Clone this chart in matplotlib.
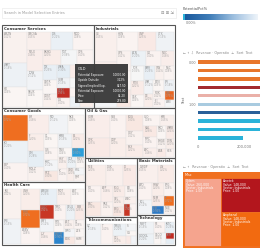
import numpy as np
import matplotlib
matplotlib.use("Agg")
import matplotlib.pyplot as plt
from matplotlib.patches import Rectangle
from matplotlib.colors import LinearSegmentedColormap

# Sector data (market value, $B) in layout order
sectors = ["Consumer Services", "Industrials", "Consumer Goods", "Health Care",
           "Oil & Gas", "Utilities", "Telecommunications", "Basic Materials", "Technology"]
sector_values = [747, 664, 607, 517, 440, 301, 143, 211, 111]

tickers = {
    "Consumer Services": ["AMZN", "WMT", "HD", "CMCSA", "DIS", "MCD", "NFLX", "LOW", "SBUX", "BKNG",
                          "TGT", "CVS", "TJX", "CHTR", "COST", "WBA", "MAR", "ROST", "YUM", "EBAY",
                          "DG", "ORLY", "AZO", "KR", "SYY", "HLT", "DLTR", "OMC"],
    "Industrials": ["GE", "BA", "MMM", "HON", "UNP", "UTX", "UPS", "CAT", "LMT", "ACN", "GD", "NOC",
                    "FDX", "RTN", "CSX", "EMR", "ITW", "NSC", "WM", "DE", "ETN", "PH", "ROK", "JCI",
                    "CMI", "AME"],
    "Consumer Goods": ["PG", "KO", "PEP", "PM", "MO", "NKE", "F", "GM", "MDLZ", "CL", "KMB", "EL",
                       "GIS", "KHC", "STZ", "TSN", "ADM", "HSY", "K", "CLX", "MNST", "CHD", "HRL", "SJM"],
    "Health Care": ["JNJ", "PFE", "UNH", "MRK", "ABBV", "AMGN", "MDT", "ABT", "GILD", "BMY", "LLY",
                    "TMO", "CELG", "BIIB", "SYK", "ANTM", "AET", "CI", "ISRG", "BDX", "ZTS", "HUM"],
    "Oil & Gas": ["XOM", "CVX", "SLB", "COP", "EOG", "OXY", "PSX", "VLO", "KMI", "HAL", "MPC", "APC",
                  "PXD", "WMB", "BHGE", "DVN", "APA", "HES"],
    "Utilities": ["NEE", "DUK", "D", "SO", "EXC", "AEP", "SRE", "PCG", "ED", "XEL", "PEG", "WEC", "ES", "DTE"],
    "Telecommunications": ["VZ", "T", "TMUS", "CTL", "S", "VG", "FTR", "USM"],
    "Basic Materials": ["DWDP", "LIN", "APD", "ECL", "SHW", "PPG", "NEM", "LYB", "IP", "NUE"],
    "Technology": ["MSFT", "GOOGL", "FB", "INTC", "CSCO", "ORCL", "IBM", "QCOM"],
}

sizes = {
    "Consumer Services": [62, 48, 40, 36, 33, 30, 27, 25, 22, 21, 19, 18, 17, 16, 15, 14, 13, 12, 11, 11,
                          10, 9, 9, 8, 8, 7, 7, 6],
    "Industrials": [58, 46, 40, 35, 31, 29, 26, 24, 22, 20, 19, 18, 17, 15, 14, 13, 12, 12, 11, 10,
                    10, 9, 8, 8, 7, 6],
    "Consumer Goods": [60, 50, 42, 36, 32, 28, 25, 23, 21, 19, 18, 17, 15, 14, 13, 12, 11, 10, 10, 9,
                       8, 8, 7, 6],
    "Health Care": [56, 46, 40, 34, 30, 27, 24, 22, 20, 18, 17, 16, 14, 13, 12, 11, 10, 10, 9, 8, 7, 7],
    "Oil & Gas": [52, 44, 36, 30, 26, 23, 20, 18, 16, 14, 13, 12, 11, 10, 9, 8, 7, 6],
    "Utilities": [40, 34, 28, 24, 21, 18, 16, 14, 12, 11, 10, 9, 8, 7],
    "Telecommunications": [40, 32, 20, 14, 10, 8, 6, 5],
    "Basic Materials": [36, 28, 22, 18, 15, 13, 11, 10, 9, 8],
    "Technology": [30, 26, 20, 16, 12, 10, 8, 6],
}

# Potential change (%) per position, drives cell colour
changes = {
    "Consumer Services": [0.12, -0.18, 0.06, 0.15, -0.22, 0.08, 0.18, -0.12, 0.04, 0.2, -0.08, 0.1,
                          -0.25, 0.06, 0.14, -0.3, 0.22, 0.05, -0.15, 0.95, 0.1, -0.05, 0.16, 0.08,
                          -0.2, 0.12, 0.04, 0.2],
    "Industrials": [0.15, 0.2, -0.1, 0.08, 0.25, -0.15, 0.12, 0.05, 0.3, -0.2, 0.1, 0.18, -0.05, 0.22,
                    0.06, -0.25, 0.14, 0.08, -0.12, 0.2, 0.05, -0.18, 0.12, 0.1, 0.75, -0.08],
    "Consumer Goods": [0.72, -0.2, 0.1, 0.18, -0.12, 0.06, 0.2, -0.28, 0.12, 0.05, -0.15, 0.22,
                       0.08, -0.1, 0.3, 0.04, -0.8, 0.15, 0.1, -0.2, 0.06, 0.2, -0.1, 0.12],
    "Health Care": [0.12, -0.15, 0.2, 0.72, 0.08, -0.25, 0.15, 0.05, 0.92, -0.12, 0.18, 0.1, -0.2,
                    0.25, 0.06, -0.9, 0.14, 0.08, -0.1, 0.3, 0.05, 0.12],
    "Oil & Gas": [0.18, 0.25, 0.1, 0.2, 0.3, 0.12, 0.22, 0.08, 0.15, 0.28, 0.1, 0.18, 0.06, 0.24,
                  0.12, 0.2, 0.25, 0.1],
    "Utilities": [0.2, 0.15, 0.25, 0.1, 0.3, 0.18, 0.12, 0.22, 0.08, 0.2, 0.35, 0.15, 0.92, 0.1],
    "Telecommunications": [-0.15, 0.1, -0.2, 0.2, -0.1, 0.05, 0.25, -0.12],
    "Basic Materials": [0.15, 0.22, 0.1, -0.12, 0.2, 0.08, 0.25, -0.95, 0.72, 0.12],
    "Technology": [-0.15, -0.2, 0.1, -0.25, 0.05, -0.1, 0.95, -0.3],
}

# Tooltip
tip_title = "GILD"
tip_rows = [("Potential Exposure", "1,0000.00"), ("Upside Outside", "3.12%"),
            ("Signed Implied Exp.", "847.50"), ("Potential Exposure", "1,0000.00"),
            ("Price", "84.20"), ("Size", "279.80")]

# Bar chart
bar_labels = ["0.00", "", "", "", "", "1.00", "", "", "", ""]
bar_values = [270000, 520000, 520000, 520000, 520000, 520000, 520000, 520000, 520000, 195000]
bar_colors = ["#e8762c", "#e8762c", "#e8762c", "#a32a2e", "#eab0a8",
              "#a9cbe0", "#2a6099", "#2bb3d9", "#2bb3d9", "#2bb3d9"]

# Bottom-right treemap
misc_names = ["Xylem", "Ametek", "Amphenol"]
misc_values = [260000, 148000, 148000]
misc_colors = ["#f5a48e", "#b3161d", "#f26a10"]

cmap = LinearSegmentedColormap.from_list(
    "chg", [(0.0, "#2e6fc0"), (0.12, "#2aa8e0"), (0.3, "#dde9f3"), (0.5, "#faf8f7"),
            (0.7, "#f8e1da"), (0.86, "#f07020"), (1.0, "#b81f25")])

TIP = (75, 64, 53, 39)


def worst(row, short):
    s = sum(row)
    return max(max(short * short * r / (s * s), s * s / (short * short * r)) for r in row)


def squarify(values, x, y, w, h):
    total = float(sum(values))
    vals = [v * w * h / total for v in values]
    rects = []
    while vals:
        short = min(w, h)
        row = [vals[0]]
        i = 1
        while i < len(vals) and worst(row + [vals[i]], short) <= worst(row, short):
            row.append(vals[i])
            i += 1
        s = sum(row)
        if w >= h:
            cw = s / h
            yy = y
            for v in row:
                rh = v / cw
                rects.append((x, yy, cw, rh))
                yy += rh
            x += cw
            w -= cw
        else:
            rh = s / w
            xx = x
            for v in row:
                cw = v / rh
                rects.append((xx, y, cw, rh))
                xx += cw
            y += rh
            h -= rh
        vals = vals[i:]
    return rects


def under_tip(px, py):
    tx, ty, tw, th = TIP
    return tx - 8 <= px <= tx + tw and ty - 3 <= py <= ty + th + 3


fig = plt.figure(figsize=(2.6, 2.5), dpi=100)
ax = fig.add_axes([0, 0, 1, 1])
ax.set_xlim(0, 260)
ax.set_ylim(250, 0)
ax.axis("off")

# top search bar
ax.add_patch(Rectangle((2, 8), 174, 10, fc="white", ec="#e6e6e6", lw=0.4))
ax.text(4, 13, "Search in Model Selection Entries", fontsize=2.6, color="#9a9a9a", va="center")
ax.text(174, 13, "\u229f \u229e \u21f2", fontsize=3, color="#888888", va="center", ha="right")

# main treemap
for name, (sx, sy, sw, sh) in zip(sectors, squarify(sector_values, 2, 25, 173, 220)):
    cells = squarify(sizes[name], sx + 1, sy + 7, sw - 2, sh - 8)
    for tk, chg, (cx, cy, cw, ch) in zip(tickers[name], changes[name], cells):
        ax.add_patch(Rectangle((cx, cy), cw, ch, fc=cmap((chg + 1) / 2), ec="#e2e2e2", lw=0.3))
        if cw > 6 and ch > 5 and not under_tip(cx, cy):
            ax.text(cx + 1, cy + 2, tk, fontsize=2, color="#8c8c8c", va="center")
            if ch > 8:
                ax.text(cx + 1, cy + 5, f"{chg:.2f}%", fontsize=1.8, color="#a8a8a8", va="center")
    ax.add_patch(Rectangle((sx, sy), sw, sh, fc="none", ec="#555555", lw=0.8))
    ax.text(sx + 2, sy + 3.5, name, fontsize=2.8, color="#333333", fontweight="bold", va="center")

# tooltip
tx, ty, tw, th = TIP
ax.add_patch(Rectangle((tx, ty), tw, th, fc="#3b3b3b", ec="none", alpha=0.97, zorder=5))
ax.text(tx + 3, ty + 4.5, tip_title, fontsize=2.5, color="white", va="center", zorder=6)
for i, (lab, val) in enumerate(tip_rows):
    yy = ty + 11 + i * 5.3
    ax.text(tx + 3, yy, lab, fontsize=2.0, color="white", va="center", zorder=6)
    ax.text(tx + tw - 2, yy, val, fontsize=2.0, color="white", va="center", ha="right", zorder=6)

# colour legend
ax.text(183, 9, "PotentialPct%", fontsize=2.6, color="#555555", va="center")
ax.text(186, 23, "0.00%", fontsize=2.4, color="#777777", va="center")
cax = fig.add_axes([185 / 260, 1 - 20 / 250, 73 / 260, 6 / 250])
grad = LinearSegmentedColormap.from_list("leg", ["#1b5a9e", "#3f7db8", "#9dbfdf", "#eef4fa"])
cax.imshow(np.linspace(0, 1, 100)[None, :], aspect="auto", cmap=grad)
cax.set_xticks([])
cax.set_yticks([])
for sp in cax.spines.values():
    sp.set_visible(False)
ax.add_patch(Rectangle((183, 14), 2.5, 6, fc="#2bb3d9", ec="none"))

# toolbars
ax.text(183, 53, "\u2190 \u2191 \u21e9  Revenue \u00b7 Operatio  \u22a5  Sort  Text",
        fontsize=2.4, color="#888888", va="center")
ax.text(183, 167, "\u2190 \u2191  Revenue \u00b7 Operatio  \u22a5  Sort  Text",
        fontsize=2.4, color="#888888", va="center")

# bar chart
bax = fig.add_axes([198 / 260, 1 - 143 / 250, 130 / 260, 86 / 250])
ypos = np.arange(len(bar_values))
bax.barh(ypos, bar_values, height=0.4, color=bar_colors)
bax.set_ylim(len(bar_values) - 0.4, -0.6)
bax.set_xlim(0, 560000)
bax.set_xticks([0, 200000])
bax.set_xticklabels(["0", "200,000"], fontsize=2.6, color="#777777")
bax.set_yticks(ypos)
bax.set_yticklabels(bar_labels, fontsize=2.4, color="#777777")
bax.tick_params(length=0, pad=1.5)
for sp in bax.spines.values():
    sp.set_visible(False)
ax.text(184, 100, "Text", fontsize=2.6, color="#666666", rotation=90, va="center", ha="center")

# bottom-right treemap
ax.add_patch(Rectangle((183, 172), 82, 76, fc="#f07020", ec="none"))
ax.text(185, 175, "Misc", fontsize=2.4, color="white", va="center")
for nm, val, col, (rx, ry, rw, rh) in zip(misc_names, misc_values, misc_colors,
                                          squarify(misc_values, 184, 178, 80, 68)):
    ax.add_patch(Rectangle((rx, ry), rw, rh, fc=col, ec="#f07020", lw=0.6))
    ax.text(rx + 2, ry + 3, nm, fontsize=2.2, color="white", va="center")
    ax.text(rx + 2, ry + 6.5, f"Value: {val:,}", fontsize=2.2, color="white", va="center")
    ax.text(rx + 2, ry + 10, "Sector: Industrials", fontsize=2.2, color="white", va="center")
    ax.text(rx + 2, ry + 13.5, "Price: 1.00", fontsize=2.2, color="white", va="center")

fig.savefig("out.png", dpi=100)
